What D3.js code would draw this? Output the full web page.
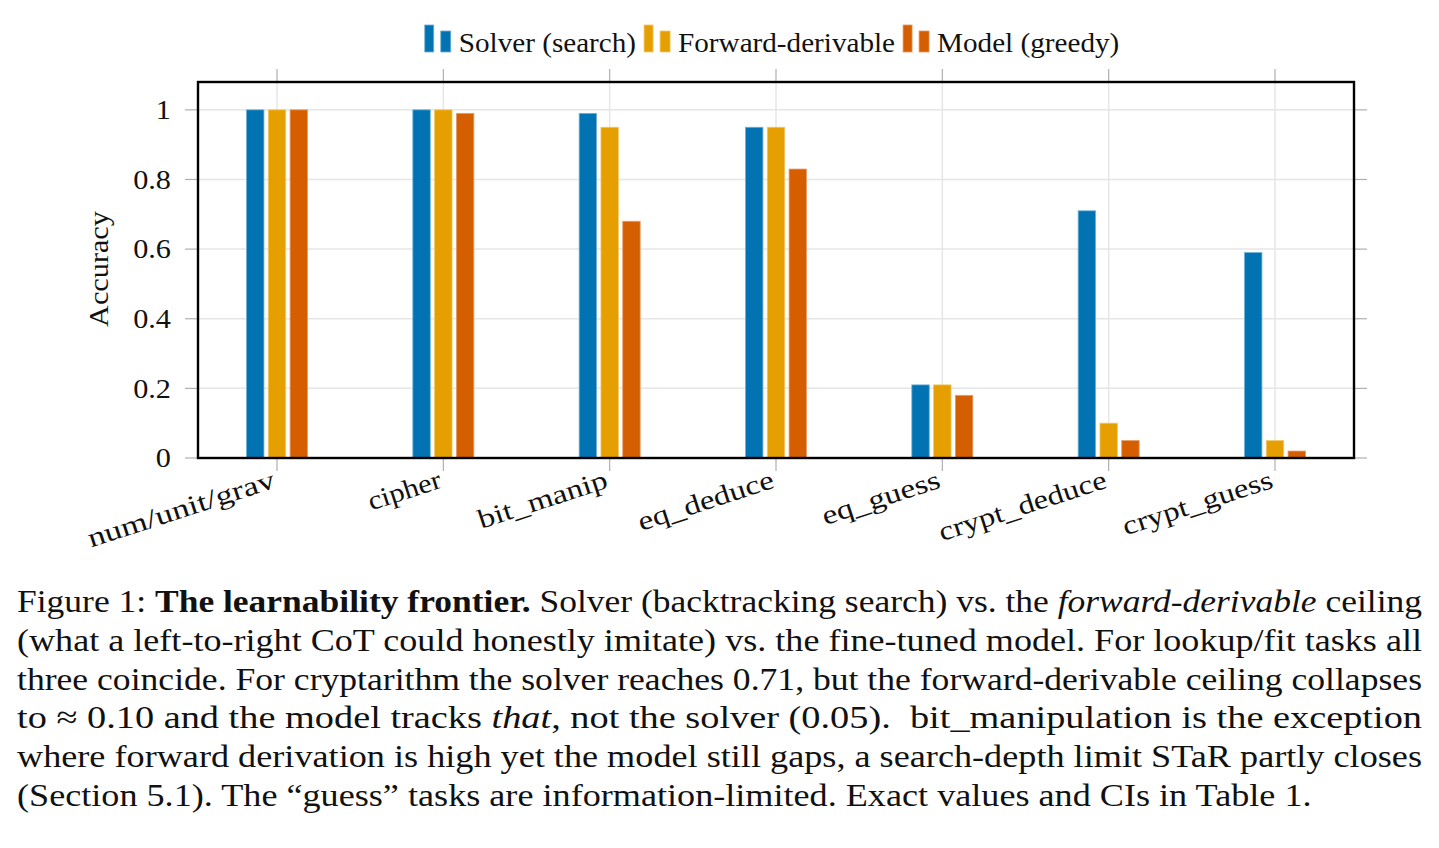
<!DOCTYPE html>
<html>
<head>
<meta charset="utf-8">
<script src="https://cdn.jsdelivr.net/npm/d3@7"></script>
<style>
  body { margin: 0; background: #fff; }
  text { font-family: "Liberation Serif", "Times New Roman", serif; fill: #111; }
</style>
</head>
<body>
<div id="chart"></div>
<script>
// data
var categories = ["num/unit/grav", "cipher", "bit_manip", "eq_deduce", "eq_guess", "crypt_deduce", "crypt_guess"];
var seriesNames = ["Solver (search)", "Forward-derivable", "Model (greedy)"];
var solver  = [1.00, 1.00, 0.99, 0.95, 0.21, 0.71, 0.59];
var forward = [1.00, 1.00, 0.95, 0.95, 0.21, 0.10, 0.05];
var model   = [1.00, 0.99, 0.68, 0.83, 0.18, 0.05, 0.02];
var yTicks = [0, 0.2, 0.4, 0.6, 0.8, 1];
var colors = ["#0173b2", "#e69f00", "#d55e00"];
var edgeColors = ["#6fb0d6", "#f2c766", "#e89a66"];

// caption, one array of [text, style] pieces per line
var captionLines = [
  [["Figure 1: ", ""], ["The learnability frontier.", "b"], [" Solver (backtracking search) vs. the ", ""], ["forward-derivable", "i"], [" ceiling", ""]],
  [["(what a left-to-right CoT could honestly imitate) vs. the fine-tuned model. For lookup/fit tasks all", ""]],
  [["three coincide. For cryptarithm the solver reaches 0.71, but the forward-derivable ceiling collapses", ""]],
  [["to \u2248 0.10 and the model tracks ", ""], ["that", "i"], [", not the solver (0.05).  bit_manipulation is the exception", ""]],
  [["where forward derivation is high yet the model still gaps, a search-depth limit STaR partly closes", ""]],
  [["(Section 5.1). The \u201cguess\u201d tasks are information-limited. Exact values and CIs in Table 1.", ""]]
];

var W = 1439, H = 848;
var plot = {left: 198, right: 1354, top: 82, bottom: 458};
var fontSize = 27;
var capFont = 32;
var widen = 1.12; // Computer Modern runs wider than Times

var svg = d3.select("#chart").append("svg")
  .attr("width", W).attr("height", H);

// stretch text to CM-like width; slashes and underscores are much wider in CM
function stretch(sel, extra, factor) {
  sel.each(function(d) {
    var w = this.getComputedTextLength() * (factor || widen);
    if (extra) w += extra * ((this.textContent.match(/[\/_]/g) || []).length);
    d3.select(this).attr("textLength", w).attr("lengthAdjust", "spacingAndGlyphs");
  });
}

var x = d3.scalePoint()
  .domain(categories)
  .range([plot.left, plot.right])
  .padding(0.475);

var y = d3.scaleLinear()
  .domain([0, 1.08])
  .range([plot.bottom, plot.top]);

var inner = d3.scaleBand()
  .domain(seriesNames)
  .range([-30.5, 30.5])
  .paddingInner(0.2);

var g = svg.append("g");

// grid
g.selectAll(".hgrid").data(yTicks).enter().append("line")
  .attr("x1", plot.left).attr("x2", plot.right)
  .attr("y1", d => y(d)).attr("y2", d => y(d))
  .attr("stroke", "#e6e6e6").attr("stroke-width", 1.5);
g.selectAll(".vgrid").data(categories).enter().append("line")
  .attr("x1", d => x(d)).attr("x2", d => x(d))
  .attr("y1", plot.top).attr("y2", plot.bottom)
  .attr("stroke", "#e6e6e6").attr("stroke-width", 1.5);

// outside ticks on all four sides
var tickLen = 13;
g.selectAll(".lt").data(yTicks).enter().append("line")
  .attr("x1", plot.left - tickLen).attr("x2", plot.left)
  .attr("y1", d => y(d)).attr("y2", d => y(d))
  .attr("stroke", "#b0b0b0").attr("stroke-width", 1.2);
g.selectAll(".rt").data(yTicks).enter().append("line")
  .attr("x1", plot.right).attr("x2", plot.right + tickLen)
  .attr("y1", d => y(d)).attr("y2", d => y(d))
  .attr("stroke", "#b0b0b0").attr("stroke-width", 1.2);
g.selectAll(".bt").data(categories).enter().append("line")
  .attr("x1", d => x(d)).attr("x2", d => x(d))
  .attr("y1", plot.bottom).attr("y2", plot.bottom + tickLen)
  .attr("stroke", "#b0b0b0").attr("stroke-width", 1.2);
g.selectAll(".tt").data(categories).enter().append("line")
  .attr("x1", d => x(d)).attr("x2", d => x(d))
  .attr("y1", plot.top - tickLen).attr("y2", plot.top)
  .attr("stroke", "#b0b0b0").attr("stroke-width", 1.2);

// bars
var seriesValues = [solver, forward, model];
seriesValues.forEach(function(vals, si) {
  g.selectAll(".bar" + si).data(vals).enter().append("rect")
    .attr("x", (d, i) => x(categories[i]) + inner(seriesNames[si]))
    .attr("width", inner.bandwidth())
    .attr("y", d => y(d))
    .attr("height", d => y(0) - y(d))
    .attr("fill", colors[si])
    .attr("stroke", edgeColors[si])
    .attr("stroke-width", 0.8);
});

// frame
g.append("rect")
  .attr("x", plot.left).attr("y", plot.top)
  .attr("width", plot.right - plot.left).attr("height", plot.bottom - plot.top)
  .attr("fill", "none").attr("stroke", "#000").attr("stroke-width", 2.4);

// y tick labels
g.selectAll(".yl").data(yTicks).enter().append("text")
  .attr("x", 171).attr("y", d => y(d))
  .attr("dy", "0.34em")
  .attr("text-anchor", "end")
  .style("font-size", fontSize + "px")
  .text(d => d3.format("~g")(d))
  .call(stretch);

// y axis title
g.append("text")
  .attr("transform", "translate(108," + ((plot.top + plot.bottom) / 2 - 1) + ") rotate(-90)")
  .attr("text-anchor", "middle")
  .style("font-size", fontSize + "px")
  .text("Accuracy")
  .call(stretch);

// x tick labels, rotated
g.selectAll(".xl").data(categories).enter().append("text")
  .attr("transform", d => "translate(" + (x(d) - 3) + "," + (plot.bottom + 21) + ") rotate(-18)")
  .attr("text-anchor", "end")
  .attr("dy", "0.32em")
  .style("font-size", fontSize + "px")
  .text(d => d)
  .call(stretch, 12);

// legend
var leg = svg.append("g");
var lx = 0;
seriesNames.forEach(function(name, i) {
  var it = leg.append("g").attr("transform", "translate(" + lx + ",0)");
  it.append("rect").attr("x", 0).attr("y", 25).attr("width", 9).attr("height", 27)
    .attr("fill", colors[i]).attr("stroke", edgeColors[i]).attr("stroke-width", 0.8);
  it.append("rect").attr("x", 16).attr("y", 31).attr("width", 10).attr("height", 21)
    .attr("fill", colors[i]).attr("stroke", edgeColors[i]).attr("stroke-width", 0.8);
  var t = it.append("text").attr("x", 34).attr("y", 52)
    .style("font-size", fontSize + "px").text(name).call(stretch, 0, 1.08);
  lx += 34 + +t.attr("textLength") + 8;
});
var legW = lx - 8;
leg.attr("transform", "translate(" + (772 - legW / 2) + ",0)");

// caption
var capLeft = 17, capRight = 1422, capTop = 612, capStep = 38.8;
captionLines.forEach(function(parts, li) {
  var t = svg.append("text")
    .attr("x", capLeft).attr("y", capTop + li * capStep)
    .style("font-size", capFont + "px")
    .style("white-space", "pre");
  parts.forEach(function(p) {
    t.append("tspan")
      .style("font-weight", p[1] === "b" ? "bold" : "normal")
      .style("font-style", p[1] === "i" ? "italic" : "normal")
      .text(p[0]);
  });
  if (li < captionLines.length - 1) {
    t.attr("textLength", capRight - capLeft).attr("lengthAdjust", "spacingAndGlyphs");
  } else {
    t.call(stretch, 0, 1.13);
  }
});
</script>
</body>
</html>
